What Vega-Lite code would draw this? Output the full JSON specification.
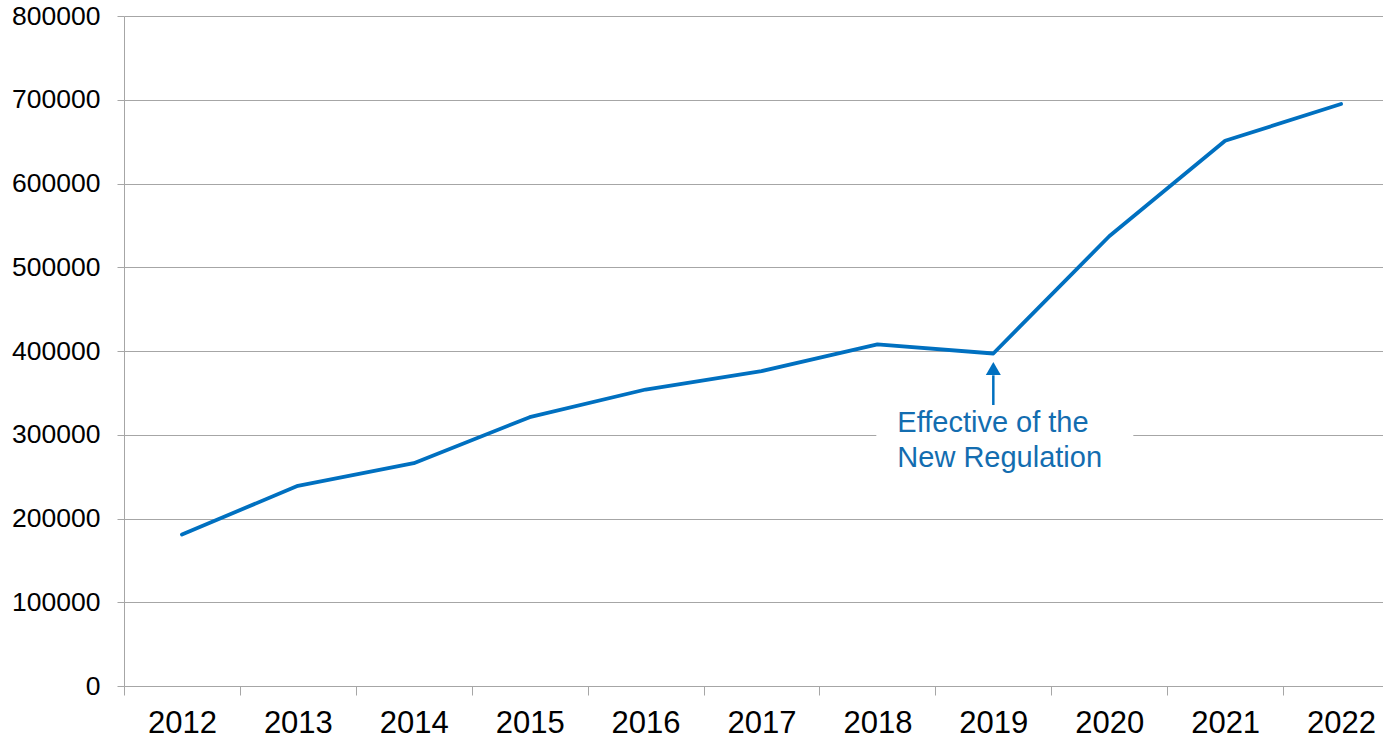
{
  "$schema": "https://vega.github.io/schema/vega-lite/v6.json",
  "autosize": {"type": "none"},
  "width": 1275,
  "height": 670,
  "padding": {"left": 124, "top": 16, "right": 0, "bottom": 54},
  "background": "white",
  "config": {
    "view": {"stroke": null},
    "font": "Liberation Sans"
  },
  "datasets": {
    "main": [
      {"year": "2012", "value": 181000},
      {"year": "2013", "value": 239000},
      {"year": "2014", "value": 266000},
      {"year": "2015", "value": 321000},
      {"year": "2016", "value": 354000},
      {"year": "2017", "value": 376000},
      {"year": "2018", "value": 408000},
      {"year": "2019", "value": 397000},
      {"year": "2020", "value": 537000},
      {"year": "2021", "value": 651000},
      {"year": "2022", "value": 695000}
    ],
    "note": [
      {"year": "2019", "boxTop": 327000, "boxBottom": 256000, "arrowBase": 335500, "arrowHead": 371000, "tip": 379000, "textY": 303600, "label": ["Effective of the", "New Regulation"]}
    ]
  },
  "layer": [
    {
      "data": {"name": "main"},
      "mark": {"type": "line", "color": "#0070C0", "strokeWidth": 3.8, "strokeJoin": "round", "strokeCap": "round"},
      "encoding": {
        "x": {
          "field": "year", "type": "ordinal",
          "scale": {"type": "band", "paddingInner": 0, "paddingOuter": 0},
          "axis": {
            "title": null, "labelAngle": 0, "tickBand": "extent",
            "labelFontSize": 31, "labelColor": "#000000", "labelPadding": 13,
            "tickSize": 9, "tickColor": "#A6A6A6", "domainColor": "#A6A6A6",
            "grid": false
          }
        },
        "y": {
          "field": "value", "type": "quantitative",
          "scale": {"domain": [0, 800000], "nice": false, "zero": true},
          "axis": {
            "title": null, "values": [0, 100000, 200000, 300000, 400000, 500000, 600000, 700000, 800000],
            "format": "d", "labelFontSize": 26.5, "labelColor": "#000000", "labelPadding": 17,
            "tickSize": 7, "tickColor": "#A6A6A6", "domainColor": "#A6A6A6",
            "grid": true, "gridColor": "#A6A6A6", "gridWidth": 1.2
          }
        }
      }
    },
    {
      "data": {"name": "note"},
      "mark": {"type": "bar", "color": "white", "width": 257, "xOffset": 11.5},
      "encoding": {
        "x": {"field": "year", "type": "ordinal"},
        "y": {"field": "boxTop", "type": "quantitative"},
        "y2": {"field": "boxBottom"}
      }
    },
    {
      "data": {"name": "note"},
      "mark": {"type": "rule", "color": "#0070C0", "strokeWidth": 2.5},
      "encoding": {
        "x": {"field": "year", "type": "ordinal"},
        "y": {"field": "arrowBase", "type": "quantitative"},
        "y2": {"field": "arrowHead"}
      }
    },
    {
      "data": {"name": "note"},
      "mark": {"type": "point", "shape": "triangle-up", "filled": true, "size": 225, "color": "#0070C0", "opacity": 1},
      "encoding": {
        "x": {"field": "year", "type": "ordinal"},
        "y": {"field": "tip", "type": "quantitative"}
      }
    },
    {
      "data": {"name": "note"},
      "mark": {"type": "text", "align": "left", "baseline": "alphabetic", "dx": -96, "fontSize": 29, "lineHeight": 35, "color": "#136DB0"},
      "encoding": {
        "x": {"field": "year", "type": "ordinal"},
        "y": {"field": "textY", "type": "quantitative"},
        "text": {"field": "label"}
      }
    }
  ]
}
